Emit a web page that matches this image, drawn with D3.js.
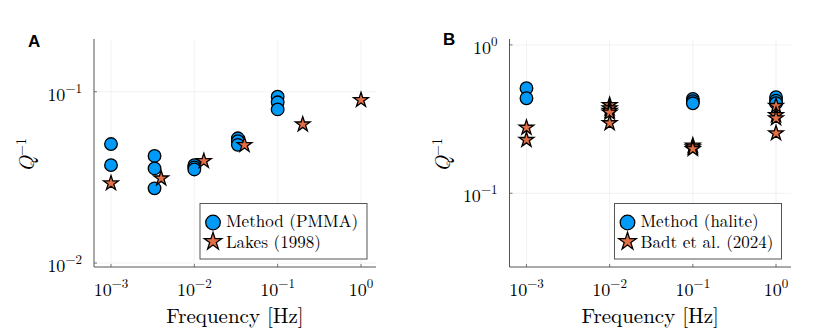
<!DOCTYPE html>
<meta charset="utf-8">
<script src="https://d3js.org/d3.v7.min.js"></script>
<style>
  body { margin: 0; background: #fff; }
  text { font-family: "Latin Modern Roman", "Liberation Serif", serif; fill: #000; }
</style>
<div id="my_dataviz"></div>
<script>

// ---- data ----
// panel A: PMMA
var freqMethodA = [0.001, 0.001, 0.00333, 0.00333, 0.00333, 0.01, 0.01, 0.01, 0.0333, 0.0333, 0.0333, 0.1, 0.1, 0.1];
var qMethodA    = [0.0495, 0.0373, 0.0422, 0.0357, 0.0273, 0.0373, 0.0362, 0.0352, 0.0535, 0.0515, 0.049, 0.0935, 0.0868, 0.0789];
var freqLakes   = [0.001, 0.004, 0.013, 0.04, 0.2, 1.0];
var qLakes      = [0.0292, 0.0312, 0.0394, 0.0489, 0.0645, 0.0894];

// panel B: halite
var freqMethodB = [0.001, 0.001, 0.1, 0.1, 0.1, 1, 1, 1];
var qMethodB    = [0.511, 0.437, 0.432, 0.418, 0.404, 0.444, 0.421, 0.405];
var freqBadt    = [0.001, 0.001, 0.01, 0.01, 0.01, 0.01, 0.01, 0.1, 0.1, 0.1, 1, 1, 1, 1];
var qBadt       = [0.277, 0.229, 0.394, 0.374, 0.36, 0.35, 0.297, 0.21, 0.204, 0.199, 0.388, 0.337, 0.32, 0.254];

var xTicks  = [0.001, 0.01, 0.1, 1];
var xTickExp = ["\u22123", "\u22122", "\u22121", "0"];

var blue = "#009af9", orange = "#e26f46";

var svg = d3.select("#my_dataviz")
  .append("svg")
    .attr("width", 830)
    .attr("height", 332);

function panel(opts) {
  var g = svg.append("g");
  var left = opts.left, right = opts.right, top = opts.top, bottom = 267;

  var x = d3.scaleLog().domain([Math.pow(10, -3.204), Math.pow(10, 0.18)]).range([left, right]);
  var y = d3.scaleLog().domain(opts.ydomain).range([bottom, top]);

  // grid
  g.selectAll(".gx").data(xTicks).enter().append("line")
    .attr("x1", function(d) { return x(d); }).attr("x2", function(d) { return x(d); })
    .attr("y1", top).attr("y2", bottom)
    .attr("stroke", "#000").attr("stroke-opacity", 0.08).attr("stroke-width", 0.7);
  g.selectAll(".gy").data(opts.yTicks).enter().append("line")
    .attr("x1", left).attr("x2", right)
    .attr("y1", function(d) { return y(d); }).attr("y2", function(d) { return y(d); })
    .attr("stroke", "#000").attr("stroke-opacity", 0.08).attr("stroke-width", 0.7);

  // axes lines
  g.append("line").attr("x1", left).attr("x2", left).attr("y1", top).attr("y2", bottom)
    .attr("stroke", "#555").attr("stroke-width", 1);
  g.append("line").attr("x1", left).attr("x2", right).attr("y1", bottom).attr("y2", bottom)
    .attr("stroke", "#555").attr("stroke-width", 1);

  // ticks (inward)
  g.selectAll(".tx").data(xTicks).enter().append("line")
    .attr("x1", function(d) { return x(d); }).attr("x2", function(d) { return x(d); })
    .attr("y1", bottom).attr("y2", bottom - 3)
    .attr("stroke", "#555").attr("stroke-width", 0.8);
  g.selectAll(".ty").data(opts.yTicks).enter().append("line")
    .attr("x1", left).attr("x2", left + 3)
    .attr("y1", function(d) { return y(d); }).attr("y2", function(d) { return y(d); })
    .attr("stroke", "#555").attr("stroke-width", 0.8);

  // x tick labels
  var xl = g.selectAll(".xl").data(xTicks).enter().append("text")
    .attr("x", function(d) { return x(d); })
    .attr("y", 296)
    .attr("text-anchor", "middle")
    .style("font-size", "18px");
  xl.append("tspan").text("10");
  xl.append("tspan").attr("dy", -8).style("font-size", "13px")
    .text(function(d, i) { return xTickExp[i]; });

  // y tick labels
  var yl = g.selectAll(".yl").data(opts.yTicks).enter().append("text")
    .attr("x", left - 12)
    .attr("y", function(d) { return y(d) + 9; })
    .attr("text-anchor", "end")
    .style("font-size", "18px");
  yl.append("tspan").text("10");
  yl.append("tspan").attr("dy", -8).style("font-size", "13px")
    .text(function(d, i) { return opts.yTickExp[i]; });

  // axis titles
  g.append("text")
    .attr("x", (left + right) / 2).attr("y", 323)
    .attr("text-anchor", "middle")
    .style("font-size", "21px")
    .text("Frequency [Hz]");

  var yt = g.append("text")
    .attr("transform", "translate(" + (left - 60) + "," + ((top + bottom) / 2 + 2) + ") rotate(-90)")
    .attr("text-anchor", "middle")
    .style("font-size", "21px");
  yt.append("tspan").style("font-style", "italic").text("Q");
  yt.append("tspan").attr("dy", -8).style("font-size", "14px").text("\u22121");

  // panel letter
  g.append("text")
    .attr("x", opts.letterX).attr("y", opts.letterY)
    .style("font-family", "Liberation Sans, Arial, sans-serif")
    .style("font-weight", "bold")
    .style("font-size", "17px")
    .text(opts.letter);

  // markers: circles
  g.selectAll(".c").data(opts.circleF).enter().append("circle")
    .attr("cx", function(d) { return x(d); })
    .attr("cy", function(d, i) { return y(opts.circleQ[i]); })
    .attr("r", 6.3)
    .attr("fill", blue).attr("stroke", "#000").attr("stroke-width", 1.3);

  // markers: stars
  var star = d3.symbol().type(d3.symbolStar).size(68);
  g.selectAll(".s").data(opts.starF).enter().append("path")
    .attr("d", star)
    .attr("transform", function(d, i) { return "translate(" + x(d) + "," + y(opts.starQ[i]) + ")"; })
    .attr("fill", orange).attr("stroke", "#000").attr("stroke-width", 1.3);

  // legend
  var lg = g.append("g");
  lg.append("rect")
    .attr("x", opts.legX).attr("y", 203.5).attr("width", opts.legW).attr("height", 55.5)
    .attr("fill", "#fff").attr("stroke", "#555").attr("stroke-width", 1);
  lg.append("circle").attr("cx", opts.legX + 13).attr("cy", 222.5).attr("r", 7.3)
    .attr("fill", blue).attr("stroke", "#000").attr("stroke-width", 1.3);
  lg.append("path").attr("d", d3.symbol().type(d3.symbolStar).size(95))
    .attr("transform", "translate(" + (opts.legX + 13) + ",241.5)")
    .attr("fill", orange).attr("stroke", "#000").attr("stroke-width", 1.3);
  lg.append("text").attr("x", opts.legX + 26).attr("y", 227)
    .style("font-size", "17px").text(opts.legend[0]);
  lg.append("text").attr("x", opts.legX + 26).attr("y", 248)
    .style("font-size", "17px").text(opts.legend[1]);
}

panel({
  left: 94, right: 376, top: 39,
  ydomain: [Math.pow(10, -2.023), Math.pow(10, -0.692)],
  yTicks: [0.01, 0.1], yTickExp: ["\u22122", "\u22121"],
  circleF: freqMethodA, circleQ: qMethodA,
  starF: freqLakes, starQ: qLakes,
  legX: 200, legW: 167,
  legend: ["Method (PMMA)", "Lakes (1998)"],
  letter: "A", letterX: 28, letterY: 47
});

panel({
  left: 509.5, right: 791, top: 39,
  ydomain: [Math.pow(10, -1.497), Math.pow(10, 0.04)],
  yTicks: [0.1, 1], yTickExp: ["\u22121", "0"],
  circleF: freqMethodB, circleQ: qMethodB,
  starF: freqBadt, starQ: qBadt,
  legX: 614.5, legW: 167,
  legend: ["Method (halite)", "Badt et al. (2024)"],
  letter: "B", letterX: 443, letterY: 45
});

</script>
